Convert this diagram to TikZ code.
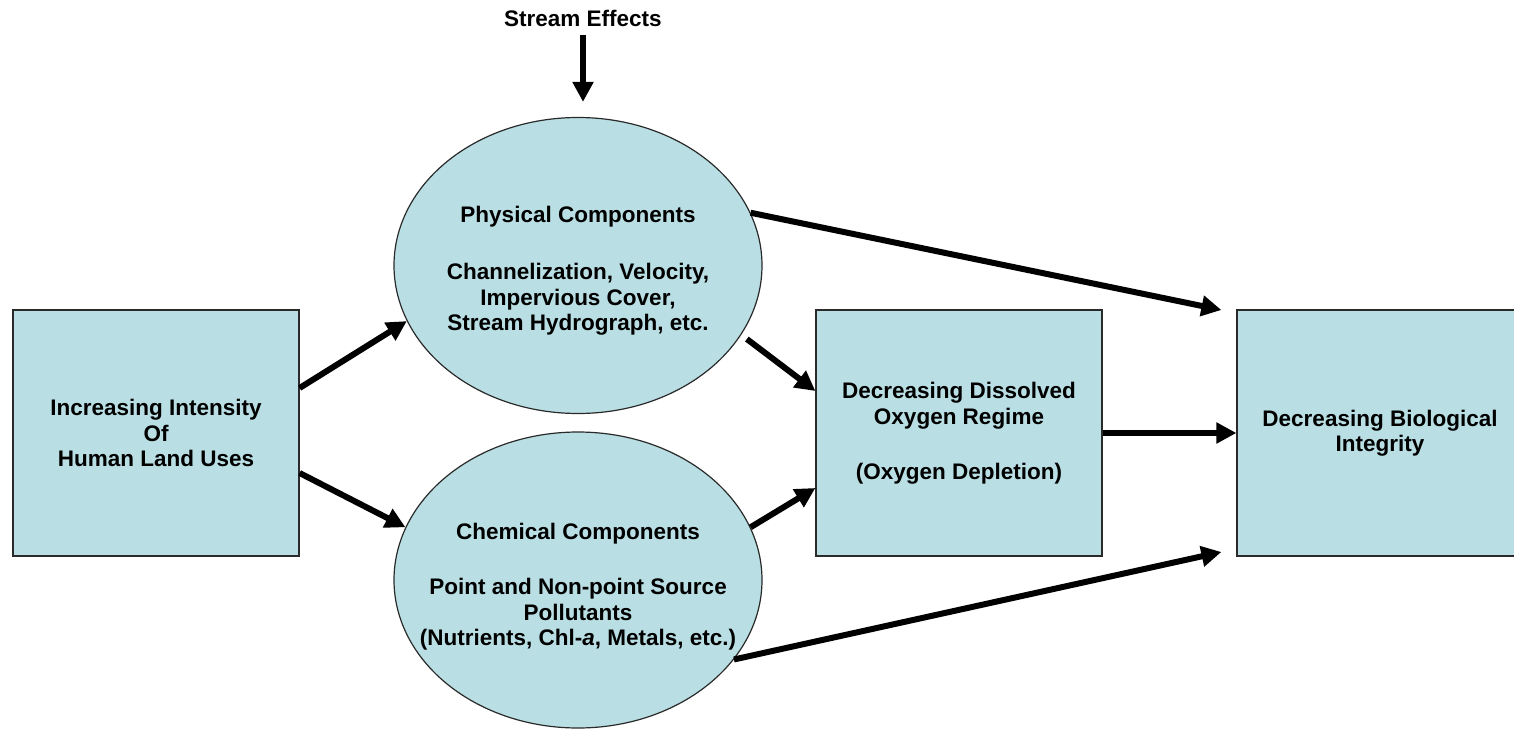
\documentclass[tikz,border=0pt]{standalone}
\usepackage{fontspec}
\setmainfont{Liberation Sans}
\usetikzlibrary{shapes.geometric,arrows.meta}
\definecolor{boxfill}{HTML}{B9DFE4}
\definecolor{edgecol}{HTML}{2A2A2A}
\begin{document}
\begin{tikzpicture}[x=1pt,y=-1pt,
  txt/.style={font=\bfseries\fontsize{22.5}{25.5}\selectfont, align=center, text=black},
  rbox/.style={txt, draw=edgecol, line width=1.2pt, fill=boxfill, minimum width=286pt, minimum height=246pt, inner sep=0pt},
  oval/.style={ellipse, draw=edgecol, line width=1.2pt, fill=boxfill, minimum width=368pt, minimum height=296pt, inner sep=0pt},
  arr/.style={line width=6pt, -{Triangle[length=20pt,width=20pt]}}
]
\useasboundingbox (0,0) rectangle (1514,730);
\clip (0,0) rectangle (1514,730);
\fill[white] (0,0) rectangle (1514,730);

\node[rbox] (land) at (156,433) {Increasing Intensity\\Of\\Human Land Uses};
\node[rbox] (oxy) at (959,433) {Decreasing Dissolved\\Oxygen Regime\\[29.5pt](Oxygen Depletion)};
\node[rbox] (bio) at (1380,433) {Decreasing Biological\\Integrity};
\node[oval] (phys) at (578,265.5) {};
\node[txt] (physlabel) at (578,271) {Physical Components\\[31.5pt]Channelization, Velocity,\\Impervious Cover,\\Stream Hydrograph, etc.};
\node[oval] (chem) at (578,580) {};
\node[txt] (chemlabel) at (578,587) {Chemical Components\\[29.5pt]Point and Non-point Source\\Pollutants\\(Nutrients, Chl-\textit{a}, Metals, etc.)};
\node[txt] (stream) at (583,18) {Stream Effects};

\draw[arr, shorten <=5pt, shorten >=15pt] (stream.south) -- (stream.south |- phys.north);
\draw[arr] ([yshift=45pt]land.east) -- (phys.198.4);
\draw[arr] ([yshift=-40pt]land.east) -- (chem.163.6);
\draw[arr, shorten <=7pt] (phys.-23.2) -- ([yshift=42pt]oxy.west);
\draw[arr] (chem.17.3) -- ([yshift=-55pt]oxy.west);
\draw[arr] (oxy.east) -- (bio.west);
\draw[arr] (phys.17.2) -- ([xshift=-15pt,yshift=123pt]bio.west);
\draw[arr] (chem.-27) -- ([xshift=-15pt,yshift=-119pt]bio.west);
\end{tikzpicture}
\end{document}
